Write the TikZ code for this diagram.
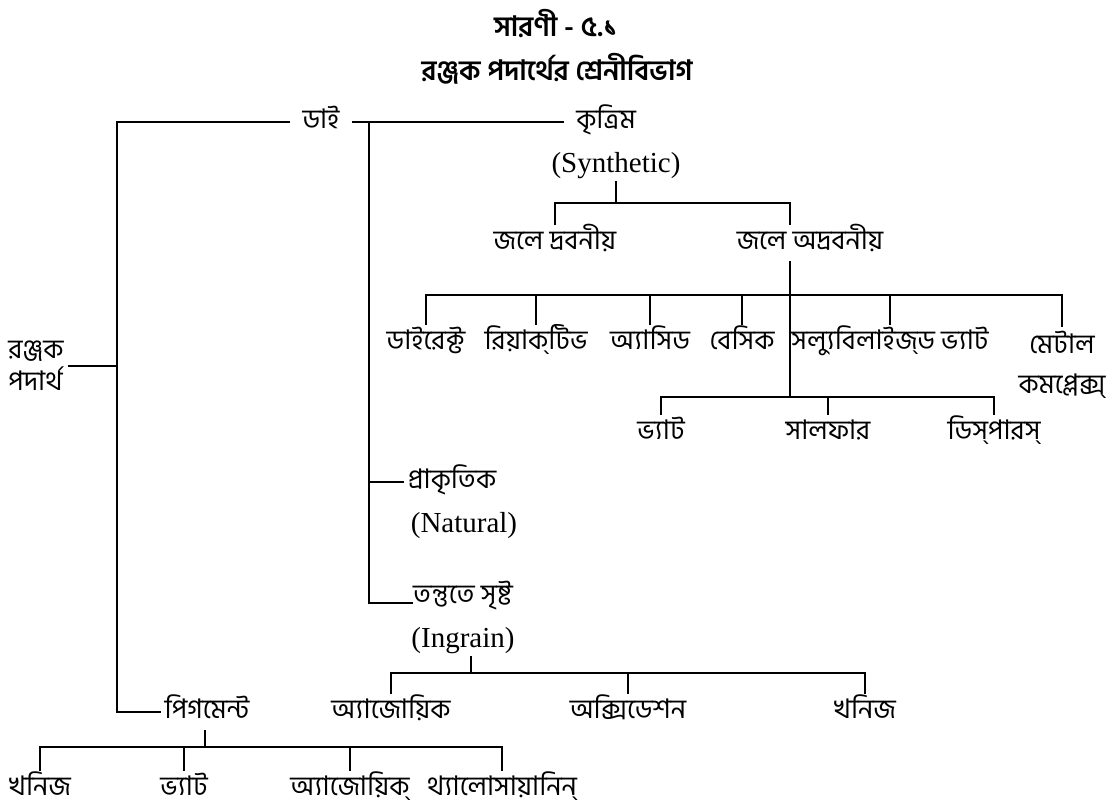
\documentclass[tikz,border=0pt]{standalone}
\usepackage{fontspec}
\setmainfont{Liberation Serif}
\newfontfamily\bn[Script=Bengali]{Hind Siliguri}
\usetikzlibrary{positioning}

\begin{document}
\begin{tikzpicture}[x=1pt, y=-1pt, node distance=44pt]
    \tikzstyle{bng} = [font=\bn\fontsize{27}{32}\selectfont, inner sep=4pt, text height=20pt, text depth=8pt]
    \tikzstyle{bngtwo} = [font=\bn\fontsize{27}{32}\selectfont, inner sep=4pt]
    \tikzstyle{head} = [font=\bn\bfseries\fontsize{28}{30}\selectfont]
    \tikzstyle{eng} = [font=\fontsize{29}{32}\selectfont, inner sep=2pt]
    \tikzstyle{line} = [draw, line width=1.6pt]
    \useasboundingbox (0,0) rectangle (1114,811);

    % titles
    \node [head] (title) at (556,24) {সারণী - ৫.১};
    \node [head] (subtitle) at (557,69) {রঞ্জক পদার্থের শ্রেনীবিভাগ};

    \node [bngtwo, align=left] (root) at (36,366) {রঞ্জক\\পদার্থ};
    \node [bng, inner xsep=12pt] (dye) at (321,122) {ডাই};
    \node [bng, inner xsep=12pt] (krit) at (606,122) {কৃত্রিম};
    \node [eng, below of=krit, xshift=10pt] (syn) {(Synthetic)};
    \node [bng] (jd) at (555,243) {জলে দ্রবনীয়};
    \node [bng] (ja) at (810,243) {জলে অদ্রবনীয়};

    \node [bng] (direct) at (426,343) {ডাইরেক্ট};
    \node [bng] (reactive) at (536,343) {রিয়াক্‌টিভ};
    \node [bng] (acid) at (650,343) {অ্যাসিড};
    \node [bng] (basic) at (742,343) {বেসিক};
    \node [bng] (solvat) at (890,343) {সল্যুবিলাইজ্‌ড ভ্যাট};
    \node [bngtwo, align=center, font=\bn\fontsize{27}{40}\selectfont] (metal) at (1062,365) {মেটাল\\কমপ্লেক্স্};

    \node [bng] (vat) at (661,433) {ভ্যাট};
    \node [bng] (sulphur) at (828,433) {সালফার};
    \node [bng] (disperse) at (994,433) {ডিস্‌পারস্};

    \node [bng] (natural) at (452,482) {প্রাকৃতিক};
    \node [eng, below of=natural, xshift=12pt] (natlat) {(Natural)};
    \node [bng, inner xsep=0pt] (fibre) at (463,597) {তন্তুতে সৃষ্ট};
    \node [eng, below of=fibre] (ingrain) {(Ingrain)};

    \node [bng] (azoic) at (391,712) {অ্যাজোয়িক};
    \node [bng] (oxid) at (628,712) {অক্সিডেশন};
    \node [bng] (mineral) at (865,712) {খনিজ};

    \node [bng] (pigment) at (207,712) {পিগমেন্ট};
    \node [bng] (pmin) at (40,789) {খনিজ};
    \node [bng] (pvat) at (184,789) {ভ্যাট};
    \node [bng] (pazo) at (350,789) {অ্যাজোয়িক্};
    \node [bng] (phthalo) at (502,789) {থ্যালোসায়ানিন্};

    % junctions
    \coordinate (tl) at (117,122);
    \coordinate (dv) at (369,122);
    \coordinate (sb) at (616,203);
    \coordinate (b1) at (790,295);
    \coordinate (b2) at (790,397);
    \coordinate (ib) at (471,673);
    \coordinate (pb) at (205,747);

    \path [line] (dye.west) -- (dye.west -| tl) |- (pigment.west);
    \path [line] (root.east) -- (root.east -| tl);
    \path [line] (dye.east) -- (krit.west);
    \path [line] (dv) |- (natural.west);
    \path [line] (dv) |- (fibre.base west);

    \path [line] (syn.south) -- (sb);
    \path [line] (sb) -| (jd.north);
    \path [line] (sb) -| (ja.north -| b1);
    \path [line] (ja.south -| b1) -- (b2);
    \foreach \c in {direct, reactive, acid, basic, solvat, metal}
        \path [line] (b1) -| (\c.north);
    \foreach \c in {vat, sulphur, disperse}
        \path [line] (b2) -| (\c.north);

    \path [line] (ingrain.south -| ib) -- (ib);
    \foreach \c in {azoic, oxid, mineral}
        \path [line] (ib) -| (\c.north);

    \path [line] (pigment.south -| pb) -- (pb);
    \foreach \c in {pmin, pvat, pazo, phthalo}
        \path [line] (pb) -| (\c.north);
\end{tikzpicture}
\end{document}
